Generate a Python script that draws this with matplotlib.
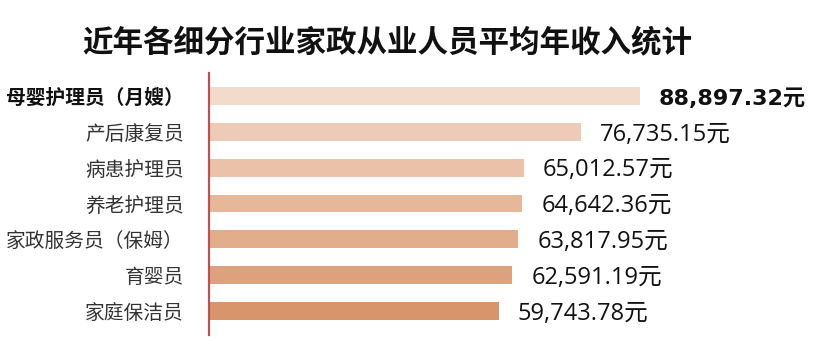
import matplotlib
matplotlib.use("Agg")
import matplotlib.pyplot as plt

## ------------------------------- DATA --------------------------------##
categories = ['母婴护理员（月嫂）', '产后康复员', '病患护理员', '养老护理员',
              '家政服务员（保姆）', '育婴员', '家庭保洁员']
incomes = [88897.32, 76735.15, 65012.57, 64642.36, 63817.95, 62591.19, 59743.78]
bar_colors = ['#F2DBCB', '#EECBB6', '#EBC2A9', '#E6B799', '#E2AD8B', '#DDA27D', '#D8956C']
title = '近年各细分行业家政从业人员平均年收入统计'

plt.rcParams['font.family'] = ['Noto Sans CJK SC', 'DejaVu Sans']

## ------------------------------- FIGURE ------------------------------##
W, H = 830, 360
fig = plt.figure(figsize=(W / 100, H / 100), dpi=100)

ax_left, ax_right = 209, 825
ax_top, ax_bottom = 73, 335
ax = fig.add_axes([ax_left / W, (H - ax_bottom) / H,
                   (ax_right - ax_left) / W, (ax_bottom - ax_top) / H])

px_per_unit = (639 - 208) / incomes[0]
ax.set_xlim(0, (ax_right - ax_left) / px_per_unit)
ax.set_ylim(6.67, -0.64)

ypos = list(range(len(categories)))
ax.barh(ypos, incomes, height=0.5, color=bar_colors, left=0)

## value labels -- top one bold and wider
for i, v in enumerate(incomes):
    if i == 0:
        ax.annotate(f'{v:,.2f}元', xy=(v, i), xytext=(13.5, -2), textcoords='offset points',
                    ha='left', va='center', fontsize=16, fontweight='bold',
                    family=['DejaVu Sans', 'Noto Sans CJK SC'], color='#111111')
    else:
        ax.annotate(f'{v:,.2f}元', xy=(v, i), xytext=(13.5, -2), textcoords='offset points',
                    ha='left', va='center', fontsize=17,
                    family=['Open Sans', 'Noto Sans CJK SC'], color='#111111')

## category labels
ax.set_yticks(ypos)
ax.set_yticklabels(categories, fontsize=14.2, color='#333333')
ax.get_yticklabels()[0].set_fontweight('bold')
ax.get_yticklabels()[0].set_color('#111111')
ax.tick_params(axis='y', length=0, pad=18)
ax.set_xticks([])

for s in ['top', 'right', 'bottom']:
    ax.spines[s].set_visible(False)
ax.spines['left'].set_color('#C0504D')
ax.spines['left'].set_linewidth(1.6)

fig.text(387 / W, 1 - 42 / H, title, ha='center', va='center',
         fontsize=22, fontweight='heavy', color='#111111')

fig.savefig('out.png', dpi=100)
